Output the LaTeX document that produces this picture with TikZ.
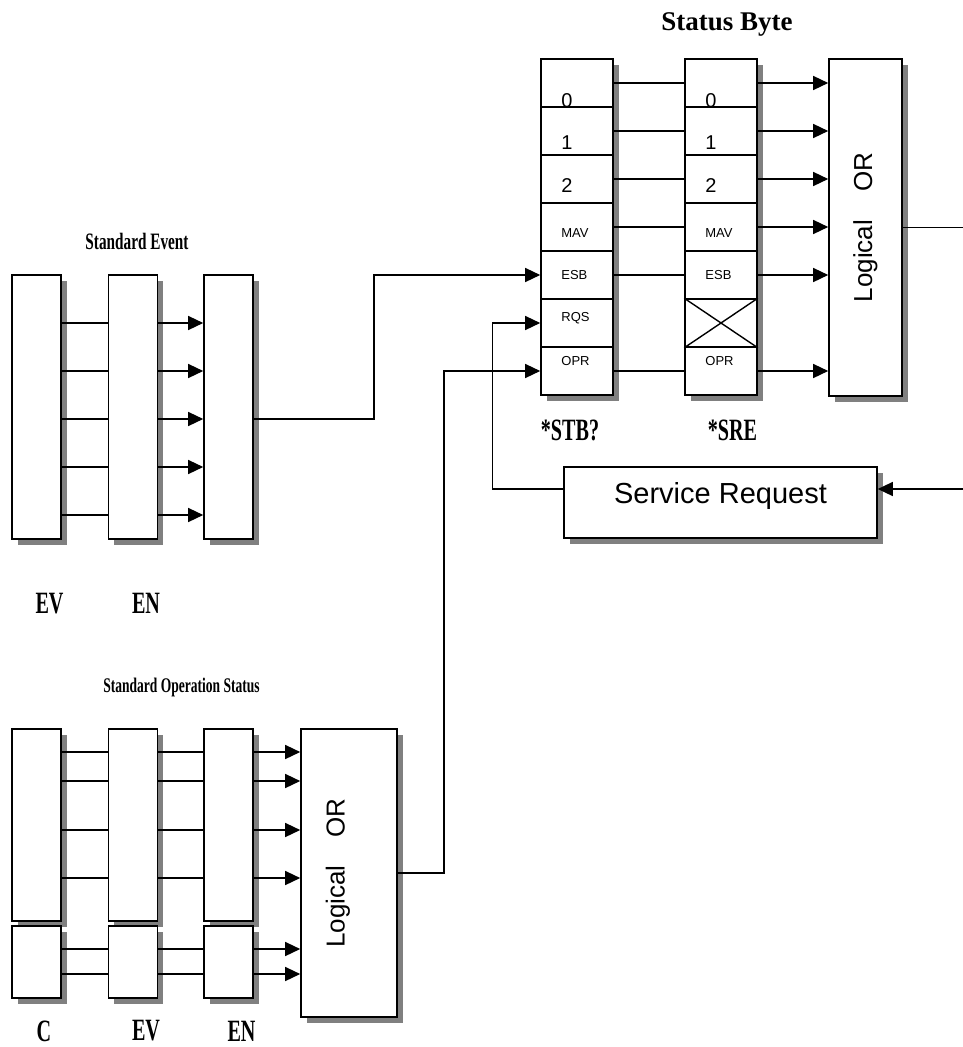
\documentclass[tikz,border=0pt]{standalone}
\usepackage{fontspec}
\setmainfont{Liberation Serif}
\setsansfont{Liberation Sans}
\newfontfamily\condserif[FakeStretch=0.65]{Liberation Serif}
\usetikzlibrary{arrows.meta, calc, shadows}

\begin{document}
\begin{tikzpicture}[x=1pt, y=-1pt,
  reg/.style={draw, fill=white, line width=1.6pt, inner sep=0pt,
    drop shadow={shadow xshift=5.5pt, shadow yshift=-5.5pt, fill=gray, opacity=1}},
  wire/.style={line width=1.4pt},
  arr/.style={wire, -{Triangle[length=15pt, width=14pt]}},
  bigbit/.style={anchor=west, inner sep=0pt, font=\sffamily\fontsize{20}{20}\selectfont},
  smallbit/.style={anchor=west, inner sep=0pt, font=\sffamily\fontsize{13}{13}\selectfont},
  tag/.style={inner sep=0pt, font=\condserif\bfseries\fontsize{31}{31}\selectfont},
  title/.style={inner sep=0pt, font=\condserif\bfseries\fontsize{#1}{#1}\selectfont},
  orlabel/.style={rotate=90, inner sep=0pt, font=\sffamily\fontsize{26}{26}\selectfont}]
\useasboundingbox (0,0) rectangle (963,1047);

\node[inner sep=0pt, font=\bfseries\fontsize{27}{27}\selectfont] (sbtitle) at (727,24) {Status Byte};
\foreach \i in {0,...,6} {
  \node[reg, minimum width=72, minimum height=48] (stb\i) at (577,83+48*\i) {};
  \node[reg, minimum width=72, minimum height=48] (sre\i) at (721,83+48*\i) {};
}
\node[reg, minimum width=73, minimum height=337] (sor) at (865.5,227.5) {};
\node[orlabel] (sorlbl) at (sor) {Logical\hspace{28pt}OR};
\foreach \r in {stb,sre} {
  \foreach \t/\d [count=\i from 0] in {0/-17.5, 1/-11.5, 2/-6.5}
    \node[bigbit] at ([xshift=21, yshift=\d]\r\i.west) {\t};
}
\foreach \t/\i/\d in {MAV/3/-6, ESB/4/-0.5, RQS/5/5, OPR/6/10}
  \node[smallbit] at ([xshift=21, yshift=\d]stb\i.west) {\t};
\foreach \t/\i/\d in {MAV/3/-6, ESB/4/-0.5, OPR/6/10}
  \node[smallbit] at ([xshift=21, yshift=\d]sre\i.west) {\t};
\draw[wire] (sre5.north west) -- (sre5.south east) (sre5.south west) -- (sre5.north east);
\foreach \i in {0,1,2,3,4,6} {
  \draw[wire] (stb\i.east) -- (sre\i.west);
  \draw[arr] (sre\i.east) -- (sre\i.east -| sor.west);
}
\coordinate (sbout) at (963,227.5);
\draw[wire] (sor.east) -- (sbout);
\node[tag] (stblbl) at (570,430) {*STB?};
\node[tag] (srelbl) at (732.5,430) {*SRE};

\node[reg, minimum width=313, minimum height=71, text height=20pt, text depth=19pt,
  font=\sffamily\fontsize{29}{29}\selectfont] (srq) at (720.5,502.5) {Service Request};
\coordinate (srin) at (963,489);
\draw[arr] (srin) -- (srin -| srq.east);
\draw[arr] (srin -| srq.west) -- ++(-71,0) |- (stb5.west);

\node[title=23.5] (setitle) at (137,241) {Standard Event};
\foreach \n/\x in {1/36.5, 2/133, 3/228.5}
  \node[reg, minimum width=49, minimum height=264] (sev\n) at (\x,407) {};
\foreach \k in {1,...,5} {
  \path (sev1.east) ++(0,48*\k-132) coordinate (se\k);
  \draw[wire] (se\k) -- (se\k -| sev2.west);
  \draw[arr] (se\k -| sev2.east) -- (se\k -| sev3.west);
}
\draw[arr] ($(sev3.east)+(0,12)$) -- ++(120,0) |- (stb4.west);
\node[tag] (evA) at (49.5,603.5) {EV};
\node[tag] (enA) at (146,603.5) {EN};

\node[title=20.8] (optitle) at (181.5,687) {Standard Operation Status};
\foreach \n/\x in {1/36.5, 2/133, 3/228.5} {
  \node[reg, minimum width=49, minimum height=192] (opu\n) at (\x,825) {};
  \node[reg, minimum width=49, minimum height=72] (opl\n) at (\x,962) {};
}
\node[reg, minimum width=96, minimum height=288] (opor) at (349,873) {};
\node[orlabel] (oporlbl) at ($(opor)+(-11,0)$) {Logical\hspace{28pt}OR};
\foreach \dy [count=\k] in {-73,-44,5,53} {
  \path (opu1.east) ++(0,\dy) coordinate (ou\k);
  \draw[wire] (ou\k) -- (ou\k -| opu2.west) (ou\k -| opu2.east) -- (ou\k -| opu3.west);
  \draw[arr] (ou\k -| opu3.east) -- (ou\k -| opor.west);
}
\foreach \dy [count=\k] in {-13,12} {
  \path (opl1.east) ++(0,\dy) coordinate (ol\k);
  \draw[wire] (ol\k) -- (ol\k -| opl2.west) (ol\k -| opl2.east) -- (ol\k -| opl3.west);
  \draw[arr] (ol\k -| opl3.east) -- (ol\k -| opor.west);
}
\draw[arr] (opor.east) -- ++(46,0) |- (stb6.west);
\node[tag] (cB) at (44,1031) {C};
\node[tag] (evB) at (146,1031) {EV};
\node[tag] (enB) at (241.5,1031) {EN};
\end{tikzpicture}
\end{document}
